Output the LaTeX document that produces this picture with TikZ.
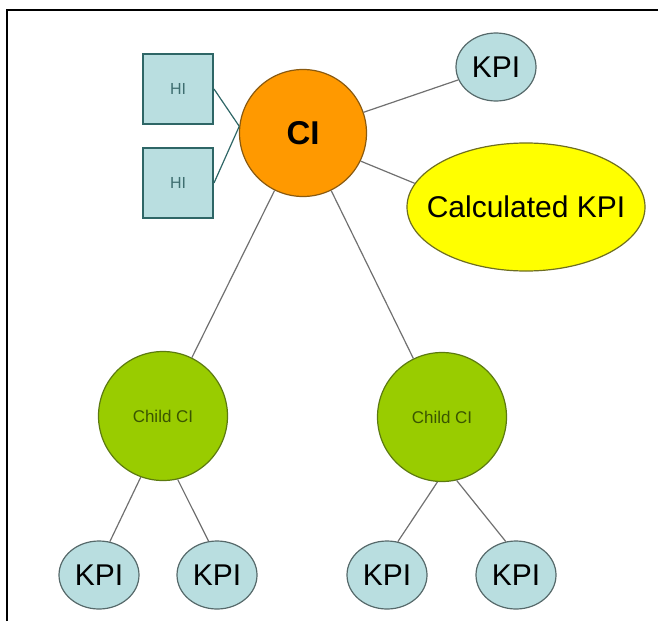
\documentclass[tikz,border=0pt]{standalone}
\usepackage{fontspec}
\setmainfont{Liberation Sans}
\usetikzlibrary{shapes.geometric}
\definecolor{kpiblue}{HTML}{B9DEE0}
\definecolor{kpiedge}{HTML}{56696A}
\definecolor{hiedge}{HTML}{2E6666}
\definecolor{hitext}{HTML}{3E6E70}
\definecolor{ciorange}{HTML}{FF9900}
\definecolor{ciedge}{HTML}{8A5A10}
\definecolor{childgreen}{HTML}{99CC00}
\definecolor{childedge}{HTML}{5C7A10}
\definecolor{childtext}{HTML}{3A5500}
\definecolor{calcyellow}{HTML}{FFFF00}
\definecolor{calcedge}{HTML}{6E6E20}
\definecolor{linkgray}{HTML}{707070}

\begin{document}
\begin{tikzpicture}[x=0.5pt,y=-0.5pt,
  hi/.style={draw=hiedge,line width=1pt,fill=kpiblue,minimum size=35pt,inner sep=0pt,
    text=hitext,font=\fontsize{8}{9}\selectfont},
  kpi/.style={ellipse,draw=kpiedge,line width=0.6pt,fill=kpiblue,minimum width=40pt,
    minimum height=34pt,inner sep=0pt,font=\fontsize{15}{16}\selectfont},
  ci/.style={circle,draw=ciedge,line width=0.6pt,fill=ciorange,minimum size=63.5pt,
    inner sep=0pt,font=\fontsize{16.5}{18}\selectfont\bfseries},
  child/.style={circle,draw=childedge,line width=0.6pt,fill=childgreen,minimum size=64.5pt,
    inner sep=0pt,text=childtext,font=\fontsize{8.5}{9}\selectfont},
  calcbox/.style={ellipse,draw=calcedge,line width=0.6pt,fill=calcyellow,minimum width=119pt,
    minimum height=64pt,inner sep=0pt},
  link/.style={draw=linkgray,line width=0.6pt},
  hilink/.style={draw=hiedge,line width=0.6pt}]
  \useasboundingbox (0,0) rectangle (658,621);
  % frame
  \draw[line width=1.1pt] (7,621) -- (7,10) -- (658,10);
  % nodes
  \node[hi]     (hi1)    at (178, 89)  {HI};
  \node[hi]     (hi2)    at (178,183)  {HI};
  \node[ci]     (ci)     at (303,133)  {CI};
  \node[kpi]    (kpi0)   at (496, 67)  {KPI};
  \node[calcbox,label={[font=\fontsize{15}{16}\selectfont]center:Calculated KPI}]
                (calc)   at (526,207)  {};
  \node[child]  (child1) at (163,416)  {Child CI};
  \node[child]  (child2) at (442,417)  {Child CI};
  \node[kpi]    (kpi1)   at ( 99,575)  {KPI};
  \node[kpi]    (kpi2)   at (217,575)  {KPI};
  \node[kpi]    (kpi3)   at (387,575)  {KPI};
  \node[kpi]    (kpi4)   at (516,575)  {KPI};
  % connectors
  \draw[hilink] (hi1.east) -- (ci.174);
  \draw[hilink] (hi2.east) -- (ci.174);
  \draw[link] (ci) -- (kpi0);
  \draw[link] (ci.-26) -- (calc.168);
  \draw[link] (ci) -- (child1);
  \draw[link] (ci) -- (child2);
  \draw[link] (child1.250) -- (kpi1.72);
  \draw[link] (child1.283) -- (kpi2.104);
  \draw[link] (child2.266) -- (kpi3.72);
  \draw[link] (child2.283) -- (kpi4.107);
\end{tikzpicture}
\end{document}
